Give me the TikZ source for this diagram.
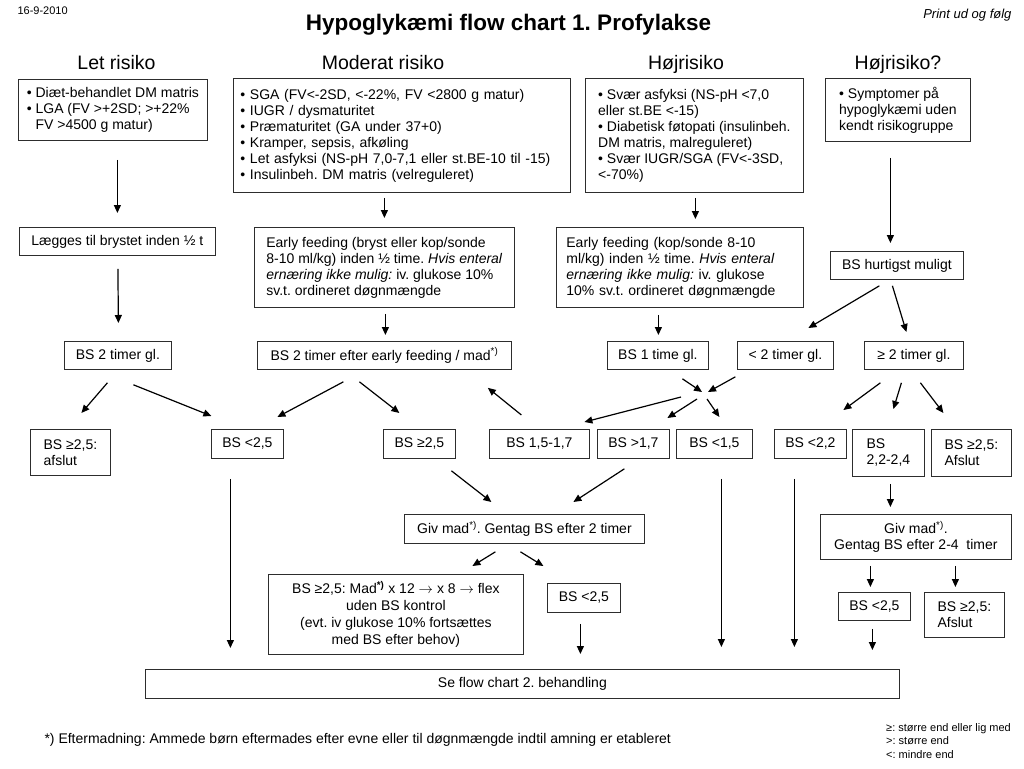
\documentclass[tikz,border=0pt]{standalone}
\usepackage{fontspec}
\setmainfont{Liberation Sans}
\usetikzlibrary{calc,arrows.meta}
\definecolor{boxline}{RGB}{45,45,45}
\newcommand{\bu}{\textbullet\ }
\newcommand{\fn}{\textsuperscript{*)}}
\frenchspacing

\begin{document}
\begin{tikzpicture}[x=1pt, y=-1pt, >={Triangle[length=8pt,width=7pt]},
  box/.style={draw=boxline, line width=0.8pt, anchor=north west, inner xsep=3pt, inner ysep=2pt, align=left, font=\fontsize{14}{16}\selectfont},
  arr/.style={->, line width=1.2pt},
  head/.style={anchor=base, font=\fontsize{19.5}{22}\selectfont}]
  \useasboundingbox (0,0) rectangle (1024,768);

  % Header
  \node[anchor=base west, font=\fontsize{11}{13}\selectfont] (date) at (14,15) {16-9-2010};
  \node[anchor=base, font=\bfseries\fontsize{22.5}{26}\selectfont] (title) at (508.5,31) {Hypoglykæmi flow chart 1. Profylakse};
  \node[anchor=base east, font=\itshape\fontsize{13}{15}\selectfont] (print) at (1015,19) {Print ud og følg};

  \node[head] (hlet) at (116.5,70) {Let risiko};
  \node[head] (hmod) at (383,70) {Moderat risiko};
  \node[head] (hhoj) at (686,70) {Højrisiko};
  \node[head] (hhojq) at (898,70) {Højrisiko?};

  % Risk groups
  \node[box, minimum width=189pt, minimum height=61pt] (let) at (18,79) {\bu Diæt-behandlet DM matris\\ \bu LGA (FV >+2SD; >+22\%\\ \phantom{\bu}FV >4500 g matur)};
  \node[box, inner xsep=7pt, text width=323pt, minimum height=114pt] (mod) at (233,78) {\bu SGA (FV<-2SD, <-22\%, FV <2800 g matur)\\ \bu IUGR / dysmaturitet\\ \bu Præmaturitet (GA under 37+0)\\ \bu Kramper, sepsis, afkøling\\ \bu Let asfyksi (NS-pH 7,0-7,1 eller st.BE-10 til -15)\\ \bu Insulinbeh. DM matris (velreguleret)};
  \node[box, minimum width=218pt, minimum height=114pt] (hoj) at (585,78) {\bu Svær asfyksi (NS-pH <7,0\\ eller st.BE <-15)\\ \bu Diabetisk føtopati (insulinbeh.\\ DM matris, malreguleret)\\ \bu Svær IUGR/SGA (FV<-3SD,\\ <-70\%)};
  \node[box, minimum width=145pt, minimum height=63pt] (hojq) at (825,78) {\bu Symptomer på\\ hypoglykæmi uden\\ kendt risikogruppe};

  % First actions
  \node[box, minimum width=196pt, minimum height=28pt] (laegges) at (19,227) {Lægges til brystet inden ½ t};
  \node[box, minimum width=260pt, minimum height=80pt] (efmod) at (254,227) {Early feeding (bryst eller kop/sonde\\ 8-10 ml/kg) inden ½ time. \textit{Hvis enteral}\\ \textit{ernæring ikke mulig:} iv. glukose 10\%\\ sv.t. ordineret døgnmængde};
  \node[box, inner xsep=10pt, text width=227pt, minimum height=80pt] (efhoj) at (556,227) {Early feeding (kop/sonde 8-10\\ ml/kg) inden ½ time. \textit{Hvis enteral}\\ \textit{ernæring ikke mulig:} iv. glukose\\ 10\% sv.t. ordineret døgnmængde};
  \node[box, minimum width=133pt, minimum height=28pt] (hurtig) at (830,251) {BS hurtigst muligt};

  % BS timing
  \node[box, minimum width=107pt, minimum height=28pt] (bs2gl) at (64,341) {BS 2 timer gl.};
  \node[box, minimum width=254pt, minimum height=28pt] (bs2ef) at (257,341) {BS 2 timer efter early feeding / mad\fn};
  \node[box, minimum width=101pt, minimum height=28pt] (bs1t) at (607,341) {BS 1 time gl.};
  \node[box, minimum width=96pt, minimum height=28pt] (lt2) at (737,341) {< 2 timer gl.};
  \node[box, minimum width=99pt, minimum height=28pt] (ge2) at (864,341) {≥ 2 timer gl.};

  % BS results
  \node[box, minimum width=80pt, minimum height=46pt] (afslut1) at (30,429) {BS ≥2,5:\\ afslut};
  \node[box, minimum width=72pt, minimum height=29pt] (lt25a) at (211,429) {BS <2,5};
  \node[box, minimum width=72pt, minimum height=29pt] (ge25) at (383,429) {BS ≥2,5};
  \node[box, minimum width=100pt, minimum height=29pt] (bs1517) at (489,429) {BS 1,5-1,7};
  \node[box, minimum width=72pt, minimum height=29pt] (gt17) at (597,429) {BS >1,7};
  \node[box, minimum width=76pt, minimum height=29pt] (lt15) at (676,429) {BS <1,5};
  \node[box, minimum width=72pt, minimum height=29pt] (lt22) at (774,429) {BS <2,2};
  \node[box, minimum width=72pt, minimum height=47pt] (bs2224) at (852,429) {BS\\ 2,2-2,4};
  \node[box, minimum width=80pt, minimum height=47pt] (afslut2) at (931,429) {BS ≥2,5:\\ Afslut};

  % Feeding and repeat
  \node[box, minimum width=240pt, minimum height=29pt] (givmad) at (404,514) {Giv mad\fn. Gentag BS efter 2 timer};
  \node[box, minimum width=255pt, minimum height=80pt, align=center, font=\fontsize{14}{17}\selectfont] (mad) at (268,574) {BS ≥2,5: Mad\textsuperscript{\textbf{*)}} x 12 $\rightarrow$ x 8 $\rightarrow$ flex\\ uden BS kontrol\\ (evt. iv glukose 10\% fortsættes\\ med BS efter behov)};
  \node[box, minimum width=73pt, minimum height=29pt] (lt25b) at (547,583) {BS <2,5};
  \node[box, minimum width=191pt, minimum height=45pt, align=center] (givmad2) at (820,514) {Giv mad\fn.\\ Gentag BS efter 2-4~ timer};
  \node[box, minimum width=72pt, minimum height=28pt] (lt25c) at (838,592) {BS <2,5};
  \node[box, minimum width=80pt, minimum height=45pt] (afslut3) at (924,592) {BS ≥2,5:\\ Afslut};

  \node[box, minimum width=754pt, minimum height=29pt, align=center] (seflow) at (145,669) {Se flow chart 2. behandling};

  % Footnote and legend
  \node[anchor=base west, font=\fontsize{14}{16}\selectfont] (note) at (41,743) {*) Eftermadning: Ammede børn eftermades efter evne eller til døgnmængde indtil amning er etableret};
  \node[anchor=north west, inner sep=0pt, align=left, font=\fontsize{11}{13.5}\selectfont] (legend) at (886,723) {≥: større end eller lig med\\ >: større end\\ <: mindre end};

  % Arrows
  \draw[arr] ($(let.south)+(4.5,19)$) -- ($(laegges.north)+(0,-14)$);
  \draw[arr] ($(mod.south)+(-17.5,5)$) -- ($(efmod.north)+(0,-9)$);
  \draw[arr] ($(hoj.south)+(1,5)$) -- ($(efhoj.north)+(15.5,-8)$);
  \draw[arr] ($(hojq.south)+(-7.5,16)$) -- ($(hurtig.north)+(-6.5,-8)$);
  \draw[arr] ($(laegges.south)+(0.5,13)$) -- ($(bs2gl.north)+(0.5,-18)$);
  \draw[arr] ($(efmod.south)+(1,6)$) -- ($(bs2ef.north)+(1,-6)$);
  \draw[arr] ($(efhoj.south)+(-21.5,7)$) -- ($(bs1t.north)+(0.5,-6)$);
  \draw[arr] ($(hurtig.south)+(-17.5,6)$) -- ($(lt2.north)+(23,-13)$);
  \draw[arr] ($(hurtig.south)+(-4.5,6)$) -- ($(ge2.north)+(-7.5,-9)$);
  \draw[arr] ($(bs2gl.south)+(-10.5,13)$) -- ($(afslut1.north)+(11,-16)$);
  \draw[arr] ($(bs2gl.south)+(15.5,15)$) -- ($(lt25a.north)+(-36,-13)$);
  \draw[arr] ($(bs2ef.south)+(-41,12)$) -- ($(lt25a.north)+(30,-12)$);
  \draw[arr] ($(bs2ef.south)+(-25,12)$) -- ($(ge25.north)+(-20,-16)$);
  \draw[arr] ($(bs1517.north)+(-18,-14)$) -- ($(bs2ef.south east)+(-24,18)$);
  \coordinate (merge) at (705,397);
  \draw[arr] ($(bs1t.south)+(24.5,9)$) -- ($(merge)+(-3,-5)$);
  \draw[arr] ($(lt2.south)+(-50,7)$) -- ($(merge)+(3,-5)$);
  \draw[arr] ($(merge)+(-24,0)$) -- ($(bs1517.north)+(45,-7)$);
  \draw[arr] ($(merge)+(-8,2)$) -- ($(gt17.north)+(34,-11)$);
  \draw[arr] ($(merge)+(2,2)$) -- ($(lt15.north)+(5,-12)$);
  \draw[arr] ($(ge2.south)+(-33.5,13)$) -- ($(lt22.north)+(33,-19)$);
  \draw[arr] ($(ge2.south)+(-12.5,13)$) -- ($(bs2224.north)+(5,-20)$);
  \draw[arr] ($(ge2.south)+(6.5,13)$) -- ($(afslut2.north)+(-28,-16)$);
  \draw[arr] ($(ge25.south)+(32,12)$) -- ($(givmad.north)+(-33,-12)$);
  \draw[arr] ($(gt17.south)+(-9,10)$) -- ($(givmad.north)+(49,-12)$);
  \draw[arr] ($(givmad.south)+(-29,8)$) -- ($(mad.north)+(76.5,-8)$);
  \draw[arr] ($(givmad.south)+(-4,8)$) -- ($(lt25b.north)+(-40.5,-17)$);
  \draw[arr] ($(bs2224.south)+(2,7)$) -- ($(givmad2.north)+(-25.5,-7)$);
  \draw[arr] ($(givmad2.south)+(-45.5,6)$) -- ($(lt25c.north)+(-4,-5)$);
  \draw[arr] ($(givmad2.south)+(39.5,6)$) -- ($(afslut3.north)+(-9,-5)$);

  % To flow chart 2
  \draw[arr] ($(lt25a.south)+(-17,20)$) -- ($(lt25a.south |- seflow.north)+(-17,-21)$);
  \draw[arr] ($(lt25b.south)+(-3.5,11)$) -- ($(lt25b.south |- seflow.north)+(-3.5,-15)$);
  \draw[arr] ($(lt15.south)+(7,20)$) -- ($(lt15.south |- seflow.north)+(7,-22)$);
  \draw[arr] ($(lt22.south)+(-16,20)$) -- ($(lt22.south |- seflow.north)+(-16,-22)$);
  \draw[arr] ($(lt25c.south)+(-2,8)$) -- ($(lt25c.south |- seflow.north)+(-2,-19)$);
\end{tikzpicture}
\end{document}
